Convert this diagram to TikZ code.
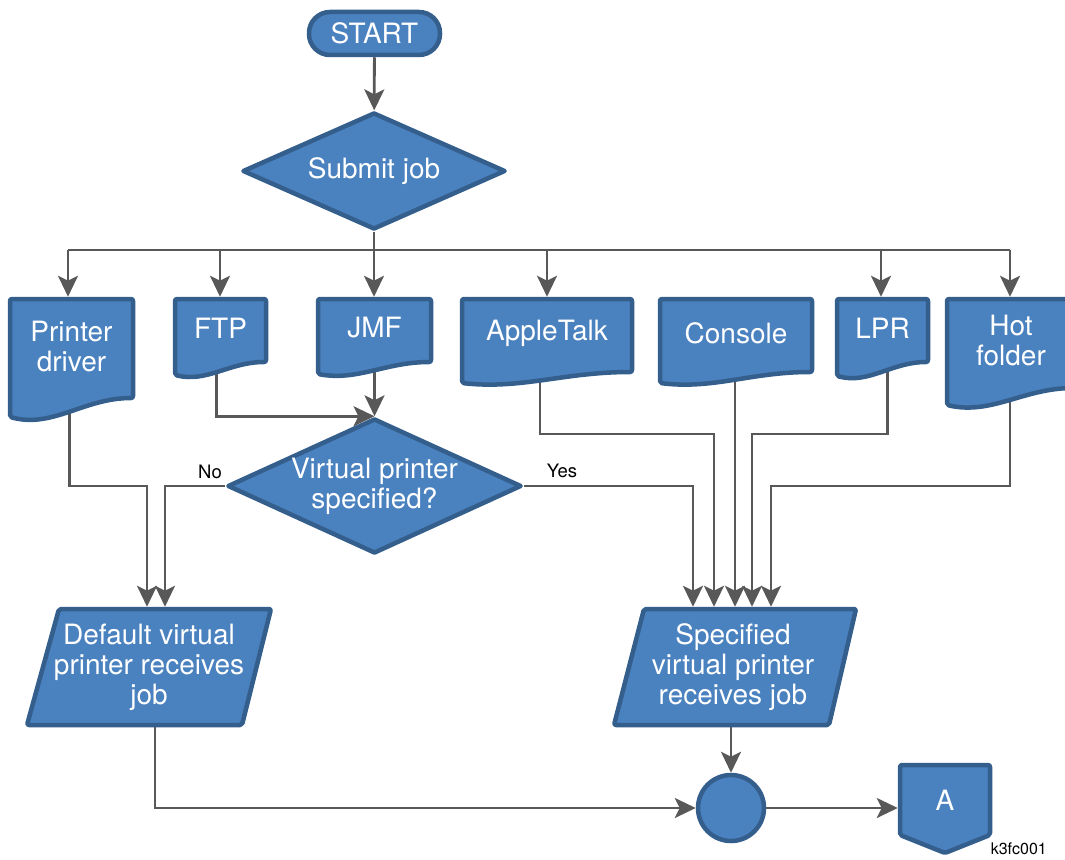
\documentclass[tikz,border=0pt]{standalone}
\usepackage{fontspec}
\setmainfont{TeX Gyre Heros}
\usetikzlibrary{shapes.geometric,arrows.meta,calc}
\definecolor{fillb}{RGB}{74,129,191}
\definecolor{bord}{RGB}{52,94,140}
\definecolor{conn}{RGB}{88,88,88}
\pgfdeclarelayer{bg}
\pgfsetlayers{bg,main}
\tikzset{
  shp/.style={fill=fillb, draw=bord, line width=4.5pt, line join=round},
  txt/.style={text=white, font=\fontsize{28}{30}\selectfont, align=center, inner sep=0pt, outer sep=2.25pt},
  lbl/.style={text=black, font=\fontsize{18.5}{20}\selectfont, inner sep=0pt},
  idlbl/.style={text=black, font=\fontsize{16}{18}\selectfont, inner sep=0pt},
  conline/.style={draw=conn, line width=2.8pt},
  arr/.style={conline, -{Stealth[length=21pt,width=20pt,inset=5pt]}},
  term/.style={shp, txt, rounded corners=21pt, minimum width=131pt, minimum height=43pt},
  decision/.style={shp, txt, diamond},
  joint/.style={shp, txt, circle, minimum size=66pt},
}
% document shape: name, L, R, T, BR, BL, text
\newcommand\docnode[7]{%
  \filldraw[shp, rounded corners=2pt] (#2,#4) -- (#3,#4) -- (#3,#5)
    .. controls ({#3-0.4*(#3-#2)},#5) and ({#2+0.35*(#3-#2)},{#6+0.6*(#6-#5)}) .. (#2,#6) -- cycle;
  \node[txt, minimum width={#3-#2}, minimum height={#5-#4-5}] (#1) at ({(#2+#3)/2},{(#4+#5)/2-2.5}) {#7};
}
% parallelogram: name, TLx, TRx, BRx, BLx, T, B, cx, text
\newcommand\datanode[9]{%
  \filldraw[shp, rounded corners=2pt] (#2,#6) -- (#3,#6) -- (#4,#7) -- (#5,#7) -- cycle;
  \node[txt, minimum width=150pt, minimum height={#7-#6}] (#1) at (#8,{(#6+#7)/2}) {#9};
}
\begin{document}
\begin{tikzpicture}[x=1pt,y=-1pt]
\useasboundingbox (0,0) rectangle (1065,859);

\node[term] (start) at (374.5,33.5) {START};
\node[decision, minimum width=263pt, minimum height=117pt, aspect=2.25] (sj) at (374,171) {Submit job};

\docnode{pd}{10}{133}{299}{398}{417}{Printer\\driver}
\docnode{ftp}{175}{266}{299}{362}{375}{FTP}
\docnode{jmf}{318}{431}{299}{362}{374}{JMF}
\docnode{at}{462}{632}{299}{372}{383}{AppleTalk}
\docnode{con}{660}{812}{299}{372}{383}{Console}
\docnode{lpr}{837}{928}{299}{362}{376}{LPR}
\docnode{hf}{947}{1075}{299}{388}{405}{Hot\\folder}

\node[decision, minimum width=294pt, minimum height=135pt, aspect=2.17] (vp) at (374.5,486) {Virtual printer\\specified?};

\datanode{dv}{59}{271}{242}{27}{609}{725}{149}{Default virtual\\printer receives\\job}
\datanode{sp}{644}{856}{829}{614}{609}{725}{733}{Specified\\virtual printer\\receives job}

\node[joint] (circ) at (731,808) {};

\filldraw[shp, rounded corners=2pt] (900,765) -- (990,765) -- (990,835) -- (945,853) -- (900,835) -- cycle;
\node[txt, minimum width=90pt, minimum height=70pt] (offA) at (945,800) {A};

\node[lbl] (no) at (210,472) {No};
\node[lbl] (yes) at (562,471) {Yes};
\node[idlbl, anchor=east] (figid) at (1047,849) {k3fc001};

% named points on the bus and arrival points
\coordinate (bus) at (374,250);
\coordinate (busL) at (68,250);
\coordinate (busR) at (1010,250);
\coordinate (dvin1) at ([xshift=-2pt]dv.north);
\coordinate (dvin2) at ([xshift=16pt]dv.north);
\coordinate (spin1) at ([xshift=-40pt]sp.north);
\coordinate (spin2) at ([xshift=-19pt]sp.north);
\coordinate (spin3) at ([xshift=2pt]sp.north);
\coordinate (spin4) at ([xshift=19pt]sp.north);
\coordinate (spin5) at ([xshift=38pt]sp.north);

\begin{pgfonlayer}{bg}
\draw[arr] (start) -- (sj);
\draw[conline] (sj.south) -- (bus);
\draw[conline] (busL) -- (busR);
\draw[arr] (busL) -- (busL |- pd.north);
\draw[arr] (bus -| 220,0) -- (220,0 |- ftp.north);
\draw[arr] (bus) -- (bus |- jmf.north);
\draw[arr] (bus -| 547,0) -- (547,0 |- at.north);
\draw[arr] (bus -| 881,0) -- (881,0 |- lpr.north);
\draw[arr] (busR) -- (busR |- hf.north);

\draw[arr] ([xshift=-4pt]ftp.center) |- (vp.north);
\draw[arr] (jmf) -- (vp);

\draw[arr] ([xshift=-2pt]pd.center) |- (dvin1 |- vp.west) -- (dvin1);
\draw[arr] (vp.west) -| (dvin2);
\draw[arr] (vp.east) -| (spin1);
\draw[arr] ([xshift=-7pt]at.center) |- (spin2 |- 0,434) -- (spin2);
\draw[arr] (con.center -| spin3) -- (spin3);
\draw[arr] ([xshift=5pt]lpr.center) |- (spin4 |- 0,434) -- (spin4);
\draw[arr] ([xshift=-1pt]hf.center) |- (spin5 |- vp.east) -- (spin5);

\draw[arr] (sp.center -| circ) -- (circ);
\draw[arr] ([xshift=6pt]dv.center) |- (circ.west);
\draw[arr] (circ.east) -- (circ.east -| offA.west);
\end{pgfonlayer}
\end{tikzpicture}
\end{document}
